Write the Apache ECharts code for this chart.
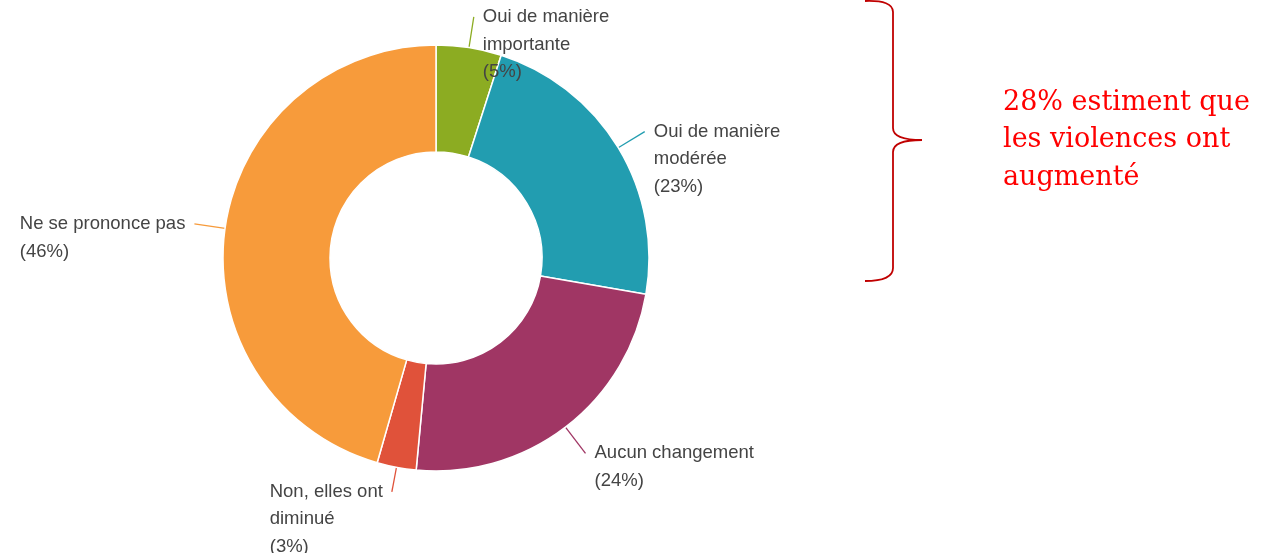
<!DOCTYPE html>
<html><head><meta charset="utf-8">
<script src="https://cdn.jsdelivr.net/npm/echarts@6/dist/echarts.min.js"></script>
<style>html,body{margin:0;padding:0;background:#fff}#c{width:1265px;height:553px}</style>
</head><body><div id="c"></div>
<script>
const categories = ['Oui de manière\nimportante', 'Oui de manière\nmodérée', 'Aucun changement', 'Non, elles ont\ndiminué', 'Ne se prononce pas'];
const values = [5, 23, 24, 3, 46];
const colors = ['#8CAC22', '#229DB0', '#A03664', '#E0523A', '#F79B3B'];
const annotationLines = ['28% estiment que', 'les violences ont', 'augmenté'];

// leader-line length per slice (styling)
const leaderLen = [31, 31, 33, 25, 31];

const braceStyle = { stroke: '#C00000', lineWidth: 1.8, fill: null };
function bez(x1, y1, cx, cy, x2, y2) {
  return { type: 'bezierCurve', shape: { x1: x1, y1: y1, x2: x2, y2: y2, cpx1: cx, cpy1: cy }, style: braceStyle };
}
function seg(x1, y1, x2, y2) {
  return { type: 'line', shape: { x1: x1, y1: y1, x2: x2, y2: y2 }, style: braceStyle };
}

const LH = 27.5;
const FS = 18.5;
const FONT = 'Liberation Sans, Arial, sans-serif';
const chart = echarts.init(document.getElementById('c'));
chart.setOption({
  animation: false,
  series: [{
    type: 'pie',
    center: [436, 258],
    radius: [106, 213],
    startAngle: 90,
    clockwise: true,
    silent: true,
    avoidLabelOverlap: false,
    itemStyle: { borderColor: '#fff', borderWidth: 1.5 },
    label: {
      show: true,
      position: 'outside',
      alignTo: 'none',
      distanceToLabelLine: 9,
      color: '#444',
      fontFamily: FONT,
      fontSize: FS,
      lineHeight: LH,
      formatter: p => {
        const lines = p.name.split('\n').concat('(' + p.value + '%)');
        return lines.map(l => '{t|' + l + '}').join('\n');
      },
      rich: { t: { align: 'left', fontSize: FS, lineHeight: LH, color: '#444', fontFamily: FONT } }
    },
    labelLine: { show: true, length: 31, length2: 0, smooth: false, lineStyle: { width: 1.3 } },
    data: categories.map((c, i) => {
      const nLines = c.split('\n').length + 1;
      return {
        name: c, value: values[i], itemStyle: { color: colors[i] },
        label: { padding: [(nLines - 1) * LH, 0, 0, 0] },
        labelLine: { length: leaderLen[i] }
      };
    })
  }],
  graphic: [
    bez(865, 1, 893, 0, 893, 12),
    seg(893, 12, 893, 128),
    bez(893, 128, 893, 140, 922, 140),
    bez(922, 140, 893, 140, 893, 152),
    seg(893, 152, 893, 268),
    bez(893, 268, 893, 281, 865, 281),
    {
      type: 'text', left: 1003, top: 84,
      style: {
        text: annotationLines.join('\n'),
        fill: '#FF0000',
        font: '27px "DejaVu Serif", "Liberation Serif", serif',
        lineHeight: 37.5
      }
    }
  ]
});
</script></body></html>
